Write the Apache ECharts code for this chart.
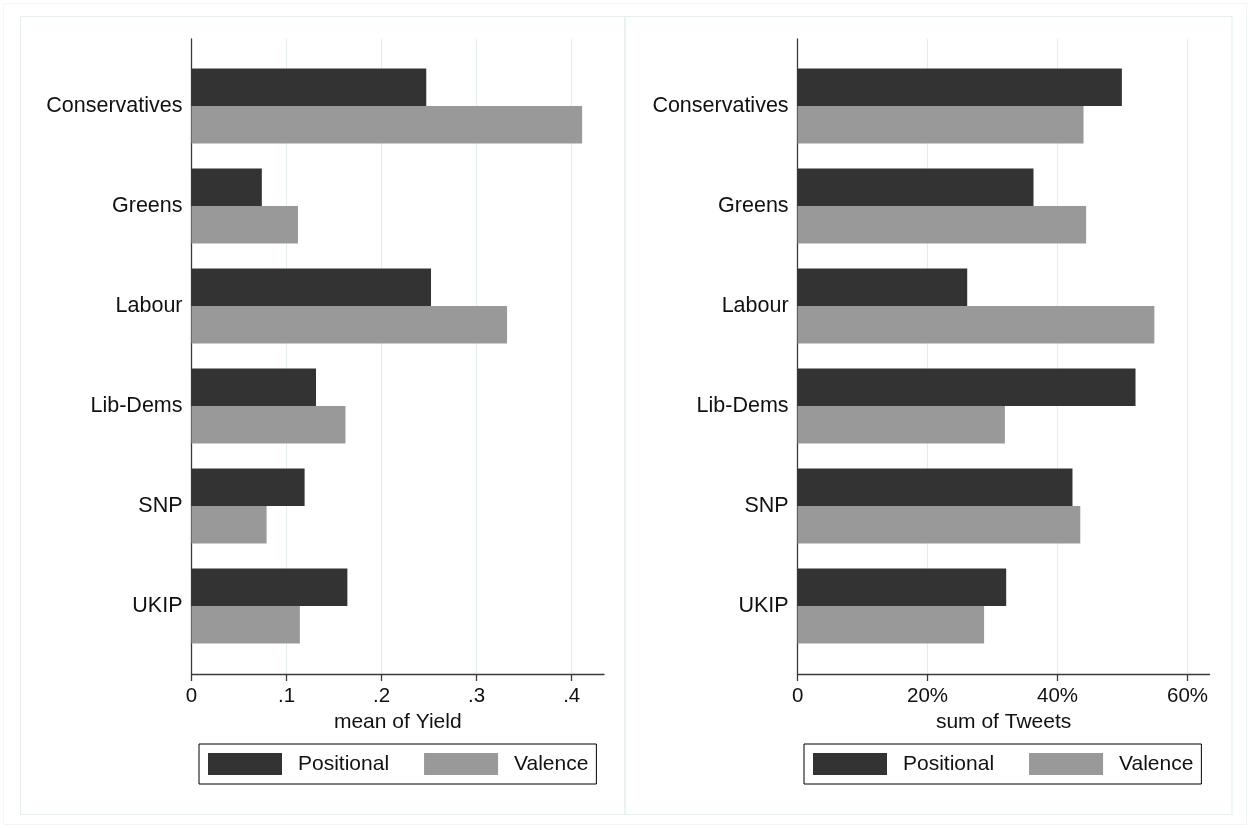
<!DOCTYPE html>
<html>
<head>
<meta charset="utf-8">
<script src="https://cdn.jsdelivr.net/npm/echarts@6/dist/echarts.min.js"></script>
<style>
html,body{margin:0;padding:0;background:#fff;}
#chart{width:1250px;height:828px;}
</style>
</head>
<body>
<div id="chart"></div>
<script>
const categories = ['Conservatives', 'Greens', 'Labour', 'Lib-Dems', 'SNP', 'UKIP'];
const seriesNames = ['Positional', 'Valence'];
const yieldPositional = [0.247, 0.074, 0.252, 0.131, 0.119, 0.164];
const yieldValence = [0.411, 0.112, 0.332, 0.162, 0.079, 0.114];
const tweetsPositional = [49.9, 36.3, 26.1, 52.0, 42.3, 32.1];
const tweetsValence = [44.0, 44.4, 54.9, 31.9, 43.5, 28.7];
const leftTicks = [0, 0.1, 0.2, 0.3, 0.4];
const rightTicks = [0, 20, 40, 60];
const leftTitle = 'mean of Yield';
const rightTitle = 'sum of Tweets';

const FONT = 'Liberation Sans, Arial, Helvetica, sans-serif';
const DARK = '#333333';
const LIGHT = '#999999';
const GRIDC = '#e4eef0';
const AXISC = '#3a3a3a';

const leftMax = 0.434, rightMax = 63.4;

const chart = echarts.init(document.getElementById('chart'));

function catAxis(gi) {
  return {
    type: 'category', gridIndex: gi, data: categories, inverse: true,
    axisLine: {show: false}, axisTick: {show: false},
    axisLabel: {fontSize: 21.5, color: '#111', margin: 9, fontFamily: FONT}
  };
}
function frameY(gi) {
  return {
    type: 'value', gridIndex: gi, min: 0, max: 1,
    axisLine: {show: true, lineStyle: {color: AXISC, width: 1.3}},
    axisTick: {show: false}, axisLabel: {show: false}, splitLine: {show: false}
  };
}
function frameX(gi, max, interval, ticks, fmt, name) {
  return {
    type: 'value', gridIndex: gi, min: 0, max: max, interval: interval,
    name: name, nameLocation: 'middle', nameGap: 32,
    nameTextStyle: {fontSize: 21, color: '#111', fontFamily: FONT},
    axisLine: {show: true, lineStyle: {color: AXISC, width: 1.3}},
    axisTick: {show: true, length: 7, customValues: ticks, lineStyle: {color: AXISC, width: 1.3}},
    axisLabel: {fontSize: 20.5, color: '#111', margin: 12, fontFamily: FONT, formatter: fmt,
                customValues: ticks},
    splitLine: {show: true, showMinLine: false, lineStyle: {color: GRIDC, width: 1.2}}
  };
}
function legend(left) {
  return {
    left: left, top: 744, orient: 'horizontal',
    data: seriesNames, icon: 'rect', itemWidth: 74, itemHeight: 22, itemGap: 35,
    padding: [9, 8, 9, 9], borderColor: '#000', borderWidth: 1,
    textStyle: {fontSize: 21, color: '#111', fontFamily: FONT, padding: [0, 0, 0, 11]},
    selectedMode: false
  };
}

const option = {
  backgroundColor: '#fff',
  animation: false,
  textStyle: {fontFamily: FONT},
  graphic: [
    {type: 'rect', shape: {x: 3.5, y: 3.5, width: 1243, height: 821}, style: {fill: 'none', stroke: '#f3f6f6', lineWidth: 1}, silent: true},
    {type: 'rect', shape: {x: 20.5, y: 16.5, width: 604.5, height: 798}, style: {fill: 'none', stroke: '#e6eef0', lineWidth: 1.2}, silent: true},
    {type: 'rect', shape: {x: 625, y: 16.5, width: 607, height: 798}, style: {fill: 'none', stroke: '#e6eef0', lineWidth: 1.2}, silent: true}
  ],
  grid: [
    {left: 191.5, width: 412.5, top: 56, height: 600},
    {left: 797.6, width: 412, top: 56, height: 600},
    {left: 191.5, width: 412.5, top: 39, height: 635},
    {left: 797.6, width: 412, top: 39, height: 635}
  ],
  xAxis: [
    {type: 'value', gridIndex: 0, min: 0, max: leftMax, show: false},
    {type: 'value', gridIndex: 1, min: 0, max: rightMax, show: false},
    frameX(2, leftMax, 0.1, leftTicks, v => Number(v) === 0 ? '0' : '.' + Math.round(v * 10), leftTitle),
    frameX(3, rightMax, 20, rightTicks, v => Number(v) === 0 ? '0' : Math.round(v) + '%', rightTitle)
  ],
  yAxis: [catAxis(0), catAxis(1), frameY(2), frameY(3)],
  legend: [legend(199), legend(804)],
  series: [
    {type: 'bar', name: seriesNames[0], xAxisIndex: 0, yAxisIndex: 0, data: yieldPositional,
     barWidth: 37.5, barGap: '0%', itemStyle: {color: DARK}, z: 3},
    {type: 'bar', name: seriesNames[1], xAxisIndex: 0, yAxisIndex: 0, data: yieldValence,
     barWidth: 37.5, barGap: '0%', itemStyle: {color: LIGHT}, z: 3},
    {type: 'bar', name: seriesNames[0], xAxisIndex: 1, yAxisIndex: 1, data: tweetsPositional,
     barWidth: 37.5, barGap: '0%', itemStyle: {color: DARK}, z: 3},
    {type: 'bar', name: seriesNames[1], xAxisIndex: 1, yAxisIndex: 1, data: tweetsValence,
     barWidth: 37.5, barGap: '0%', itemStyle: {color: LIGHT}, z: 3},
    {type: 'scatter', xAxisIndex: 2, yAxisIndex: 2, data: [], silent: true},
    {type: 'scatter', xAxisIndex: 3, yAxisIndex: 3, data: [], silent: true}
  ]
};
chart.setOption(option);
</script>
</body>
</html>
